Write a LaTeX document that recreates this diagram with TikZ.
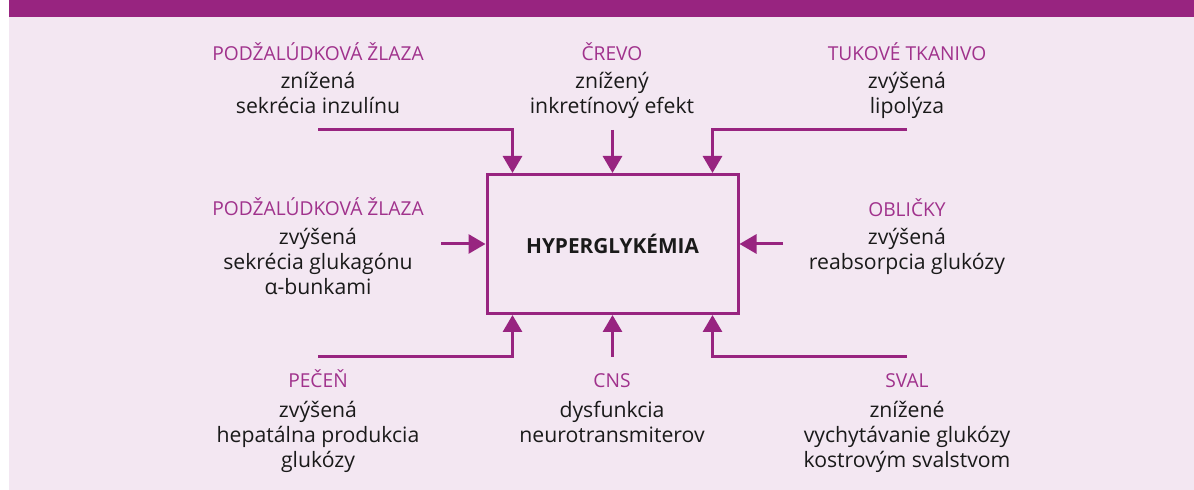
\documentclass[tikz,border=0pt]{standalone}
\usepackage{fontspec}
\setmainfont{Open Sans}
\usetikzlibrary{arrows.meta,calc}
\definecolor{hdr}{RGB}{152,36,128}
\definecolor{pnl}{RGB}{243,231,242}
\definecolor{ttl}{RGB}{160,50,140}
\definecolor{txt}{RGB}{26,26,26}
\begin{document}
\begin{tikzpicture}[x=0.5pt,y=-0.5pt,
  conn/.style={draw=hdr, line width=1.5pt, -{Triangle[length=8.5pt,width=9.5pt]}},
  ttlbl/.style={text=ttl, font=\fontsize{9.6}{12.5}\selectfont, inner sep=0pt, anchor=base},
  body/.style={text=txt, font=\fontsize{10.6}{12.5}\selectfont, align=center, inner sep=0pt, anchor=base},
  mainbox/.style={draw=hdr, line width=1.5pt, minimum width=125.5pt, minimum height=69.5pt, inner sep=0pt, font=\fontsize{10.4}{12}\selectfont\bfseries, text=txt}]
\useasboundingbox (0,0) rectangle (1194,490);
\fill[white] (0,0) rectangle (1194,490);
\fill[pnl] (9,17) rectangle (1194,490);
\fill[hdr] (9,0) rectangle (1194,17);

\node[mainbox] (hg) at (612.5,244) {HYPERGLYKÉMIA};

% labels (body nodes are placed by the baseline of their last line)
\node[ttlbl] (t1) at (318,61) {PODŽALÚDKOVÁ ŽLAZA};
\node[body] (b1) at (318,114) {znížená\\sekrécia inzulínu};
\node[ttlbl] (t2) at (612,61) {ČREVO};
\node[body] (b2) at (612,114) {znížený\\inkretínový efekt};
\node[ttlbl] (t3) at (907,61) {TUKOVÉ TKANIVO};
\node[body] (b3) at (907,114) {zvýšená\\lipolýza};
\node[ttlbl] (t4) at (318,216) {PODŽALÚDKOVÁ ŽLAZA};
\node[body] (b4) at (318,295) {zvýšená\\sekrécia glukagónu\\α-bunkami};
\node[ttlbl] (t5) at (907,217) {OBLIČKY};
\node[body] (b5) at (907,270) {zvýšená\\reabsorpcia glukózy};
\node[ttlbl] (t6) at (318,388) {PEČEŇ};
\node[body] (b6) at (318,468) {zvýšená\\hepatálna produkcia\\glukózy};
\node[ttlbl] (t7) at (612,388) {CNS};
\node[body] (b7) at (612,443) {dysfunkcia\\neurotransmiterov};
\node[ttlbl] (t8) at (907,388) {SVAL};
\node[body] (b8) at (907,468) {znížené\\vychytávanie glukózy\\kostrovým svalstvom};

% connector ends
\coordinate (c1) at (318,130);
\coordinate (c2) at (612.5,130);
\coordinate (c3) at (907,130);
\coordinate (c4) at (441,244);
\coordinate (c5) at (783,244);
\coordinate (c6) at (318,357);
\coordinate (c7) at (612.5,357);
\coordinate (c8) at (907,357);

\draw[conn] (c1) -| ($(hg.north)+(-100,0)$);
\draw[conn] (c2) -- (hg.north);
\draw[conn] (c3) -| ($(hg.north)+(100,0)$);
\draw[conn] (c4) -- (hg.west);
\draw[conn] (c5) -- (hg.east);
\draw[conn] (c6) -| ($(hg.south)+(-100,0)$);
\draw[conn] (c7) -- (hg.south);
\draw[conn] (c8) -| ($(hg.south)+(100,0)$);
\end{tikzpicture}
\end{document}
